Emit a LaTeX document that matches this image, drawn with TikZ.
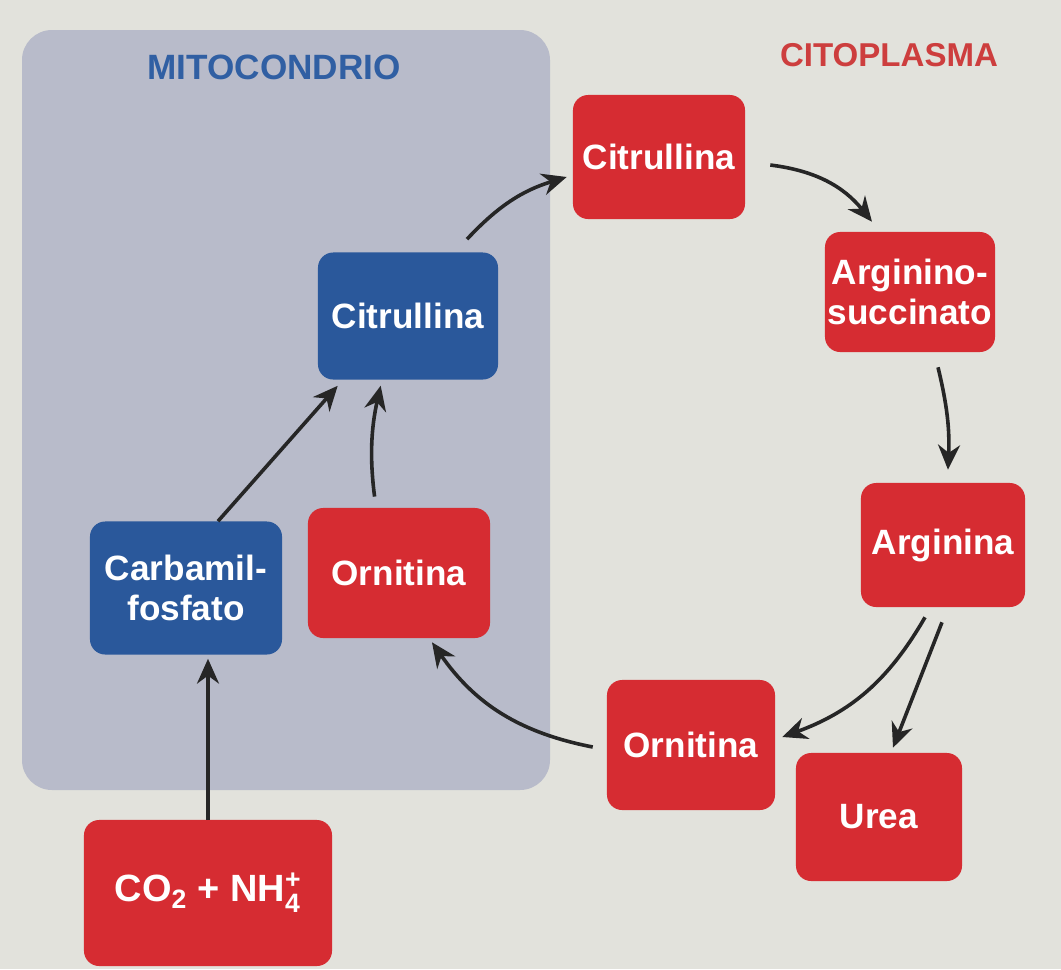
\documentclass[tikz,border=0pt]{standalone}
\usepackage{fontspec}
\setmainfont{Liberation Sans}
\usepackage{amsmath}
\usetikzlibrary{arrows.meta,positioning}
\definecolor{pagebg}{RGB}{226,226,220}
\definecolor{mitobg}{RGB}{184,187,202}
\definecolor{mitoblue}{RGB}{42,88,155}
\definecolor{cytored}{RGB}{214,44,50}
\definecolor{titleblue}{RGB}{48,95,163}
\definecolor{titlered}{RGB}{205,62,62}
\definecolor{arrowgray}{RGB}{38,38,38}

\begin{document}
\begin{tikzpicture}[x=0.025cm, y=-0.025cm,
  box/.style={rounded corners=0.38cm, minimum width=4.3cm, minimum height=3.1cm, align=center, text=white, font=\fontsize{25}{28}\selectfont\bfseries, inner sep=0pt},
  mito/.style={box, fill=mitoblue},
  cyto/.style={box, fill=cytored},
  title/.style={font=\fontsize{24}{27}\selectfont\bfseries},
  arr/.style={-{Stealth[length=0.62cm, width=0.55cm, inset=0.2cm]}, line width=0.09cm, draw=arrowgray}
]
\fill[pagebg] (0,0) rectangle (1061,969);
\useasboundingbox (0,0) rectangle (1061,969);
\fill[mitobg, rounded corners=0.75cm] (22,30) rectangle (550,790);
\node[title, text=titleblue, font=\fontsize{25}{28}\selectfont\bfseries] (tmito) at (274,67) {MITOCONDRIO};
\node[title, text=titlered, font=\fontsize{23.5}{27}\selectfont\bfseries] (tcyto) at (889,55) {CITOPLASMA};

% mitocondrio
\node[mito, minimum width=4.5cm, minimum height=3.175cm] (cit) at (408,316) {Citrullina};
\node[mito, minimum width=4.8cm, minimum height=3.325cm] (carb) at (186,588) {Carbamil-\\fosfato};
\node[cyto, minimum width=4.55cm, minimum height=3.25cm] (ornm) at (399,573) {Ornitina};
\node[cyto, minimum width=6.2cm, minimum height=3.65cm, font=\fontsize{27}{30}\selectfont\bfseries] (co2) at (208,893) {CO$_{\text{2}}$ + NH$^{\text{+}}_{\text{4}}$};

% citoplasma
\node[cyto] (citr) at (659,157) {Citrullina};
\node[cyto, minimum width=4.25cm, minimum height=3cm] (asucc) at (910,292) {Arginino-\\succinato};
\node[cyto, minimum width=4.1cm] (arg) at (943,545) {Arginina};
\node[cyto, minimum width=4.2cm, minimum height=3.25cm] (ornc) at (691,745) {Ornitina};
\node[cyto, minimum width=4.15cm, minimum height=3.2cm] (urea) at (879,817) {Urea};

\draw[arr, shorten >=0.1cm] (co2.north) -- (co2.north |- carb.south);
\draw[arr, shorten >=0.2cm] ([shift={(32,0)}]carb.north) -- ([shift={(-65,0)}]cit.south);
\draw[arr, shorten <=0.28cm, shorten >=0.15cm] ([shift={(-23,0)}]ornm.north) to[bend left=10] ([shift={(-26,0)}]cit.south);
\draw[arr] ([shift={(59,-13)}]cit.north) to[bend left=15] ([shift={(-6,20)}]citr.west);
\draw[arr] ([shift={(25,8)}]citr.east) to[bend left=22] ([shift={(-38,-10)}]asucc.north);
\draw[arr] ([shift={(28,15)}]asucc.south) to[bend left=8] ([shift={(5,-13)}]arg.north);
\draw[arr] ([shift={(-18,10)}]arg.south) to[bend left=20] ([shift={(7,-8)}]ornc.east);
\draw[arr] ([shift={(-1,15)}]arg.south) -- ([shift={(14,-5)}]urea.north);
\draw[arr] ([shift={(-14,2)}]ornc.west) to[bend left=22] ([shift={(33,4)}]ornm.south);
\end{tikzpicture}
\end{document}
